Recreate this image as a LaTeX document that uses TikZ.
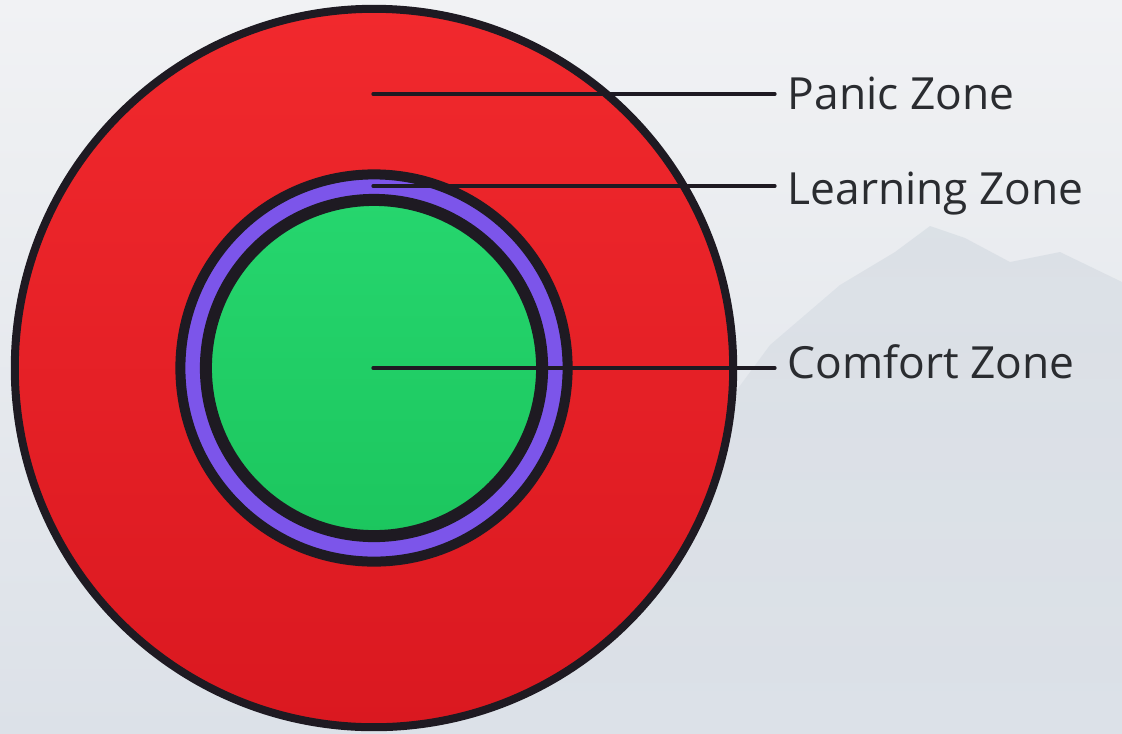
\documentclass[tikz,border=0pt]{standalone}
\usepackage{fontspec}
\setmainfont{Open Sans}
\usetikzlibrary{positioning}

\definecolor{bgtop}{HTML}{F1F2F4}
\definecolor{bgbot}{HTML}{DCE1E8}
\definecolor{hill}{HTML}{D6DCE3}
\definecolor{panicred}{HTML}{F1292D}
\definecolor{panicdark}{HTML}{DA1820}
\definecolor{learnpurple}{HTML}{7C55EA}
\definecolor{comfgreen}{HTML}{26D66E}
\definecolor{comfdark}{HTML}{1CC65E}
\definecolor{rim}{HTML}{1E1A22}
\definecolor{labeltext}{HTML}{2A2C30}

\tikzset{
  zonelabel/.style={anchor=base west, inner xsep=0.12cm, inner ysep=0pt,
    text=labeltext, font=\fontsize{12.6}{15}\selectfont},
  zoneline/.style={draw=rim, line width=0.033cm},
}

\begin{document}
\begin{tikzpicture}[x=0.01cm, y=-0.01cm, line cap=round, line join=round]

  \def\cx{374}   % centre of the rings
  \def\cy{368}

  % background with the faint hill
  \fill[top color=bgtop, bottom color=bgbot] (0,0) rectangle (1122,733);
  \shade[top color=hill, bottom color=bgbot, opacity=0.7]
    (700,440) -- (770,345) -- (840,285) -- (895,252) -- (930,226)
    -- (965,238) -- (1010,262) -- (1060,252) -- (1122,282)
    -- (1122,733) -- (480,733) -- cycle;
  \useasboundingbox (0,0) rectangle (1122,733);

  % panic zone
  \shade[top color=panicred, bottom color=panicdark, draw=rim, line width=0.08cm]
    (\cx,\cy) circle[radius=3.59cm];

  % learning zone
  \fill[learnpurple, draw=rim, line width=0.10cm]
    (\cx,\cy) circle[radius=1.935cm];

  % comfort zone
  \shade[top color=comfgreen, bottom color=comfdark, draw=rim, line width=0.12cm]
    (\cx,\cy) circle[radius=1.68cm];

  \coordinate (panicpt) at (373,94);
  \coordinate (learnpt) at (373,186);
  \coordinate (comfpt)  at (373,368);

  \node[zonelabel] (panic) at (775,109) {Panic Zone};
  \node[zonelabel] (learn) at (775,204) {Learning Zone};
  \node[zonelabel] (comf)  at (775,378) {Comfort Zone};

  \draw[zoneline] (panicpt) -- (panicpt -| panic.west);
  \draw[zoneline] (learnpt) -- (learnpt -| learn.west);
  \draw[zoneline] (comfpt)  -- (comfpt -| comf.west);

\end{tikzpicture}
\end{document}
